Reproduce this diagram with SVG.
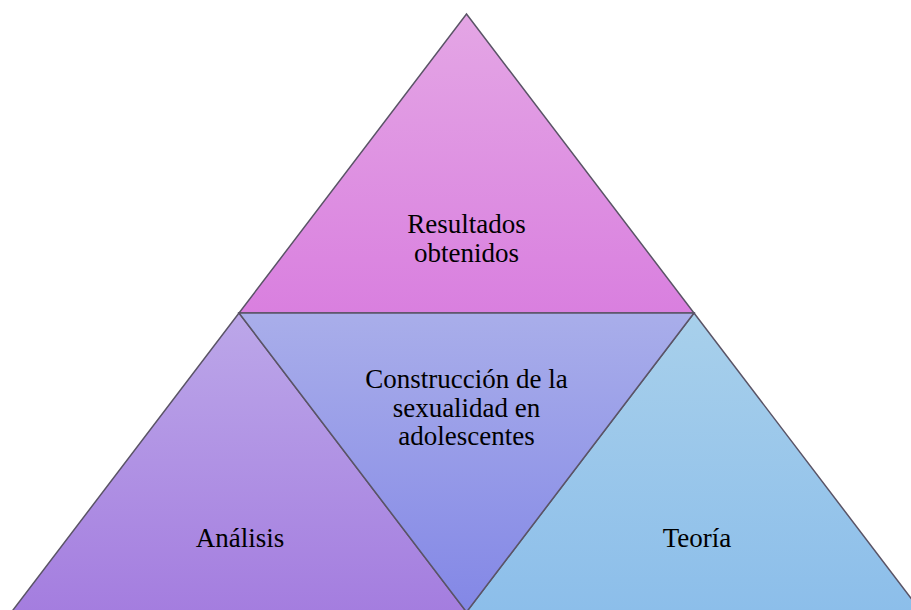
<svg xmlns="http://www.w3.org/2000/svg" width="911" height="610" viewBox="0 0 911 610">
  <defs>
    <linearGradient id="gTop" x1="0" y1="0" x2="0" y2="1">
      <stop offset="0" stop-color="#e4a6e5"/>
      <stop offset="1" stop-color="#d97fdf"/>
    </linearGradient>
    <linearGradient id="gMid" x1="0" y1="0" x2="0" y2="1">
      <stop offset="0" stop-color="#a9aeea"/>
      <stop offset="1" stop-color="#8387e6"/>
    </linearGradient>
    <linearGradient id="gLeft" x1="0" y1="0" x2="0" y2="1">
      <stop offset="0" stop-color="#bca7e9"/>
      <stop offset="1" stop-color="#a47ddf"/>
    </linearGradient>
    <linearGradient id="gRight" x1="0" y1="0" x2="0" y2="1">
      <stop offset="0" stop-color="#a8d0eb"/>
      <stop offset="1" stop-color="#8cbeea"/>
    </linearGradient>
  </defs>
  <style>
    .tri { stroke: #5a5466; stroke-width: 1.5; stroke-linejoin: miter; }
    .lbl { font-family: "Liberation Serif", "Times New Roman", serif; font-size: 27px; fill: #000; text-anchor: middle; }
  </style>
  <rect width="911" height="610" fill="#ffffff"/>
  <g id="node-top">
    <polygon class="tri" fill="url(#gTop)" points="466.5,14 694,313 239,313"/>
    <text class="lbl" x="466.5" y="233">Resultados</text>
    <text class="lbl" x="466.5" y="262">obtenidos</text>
  </g>
  <g id="node-left">
    <polygon class="tri" fill="url(#gLeft)" points="239,313 466.5,612 11.5,612"/>
    <text class="lbl" x="240" y="547">Análisis</text>
  </g>
  <g id="node-right">
    <polygon class="tri" fill="url(#gRight)" points="694,313 921.5,612 466.5,612"/>
    <text class="lbl" x="697" y="547">Teoría</text>
  </g>
  <g id="node-center">
    <polygon class="tri" fill="url(#gMid)" points="239,313 694,313 466.5,612"/>
    <text class="lbl" x="466.5" y="388">Construcción de la</text>
    <text class="lbl" x="466.5" y="417">sexualidad en</text>
    <text class="lbl" x="466.5" y="445">adolescentes</text>
  </g>
  <g id="connectors"></g>
</svg>
